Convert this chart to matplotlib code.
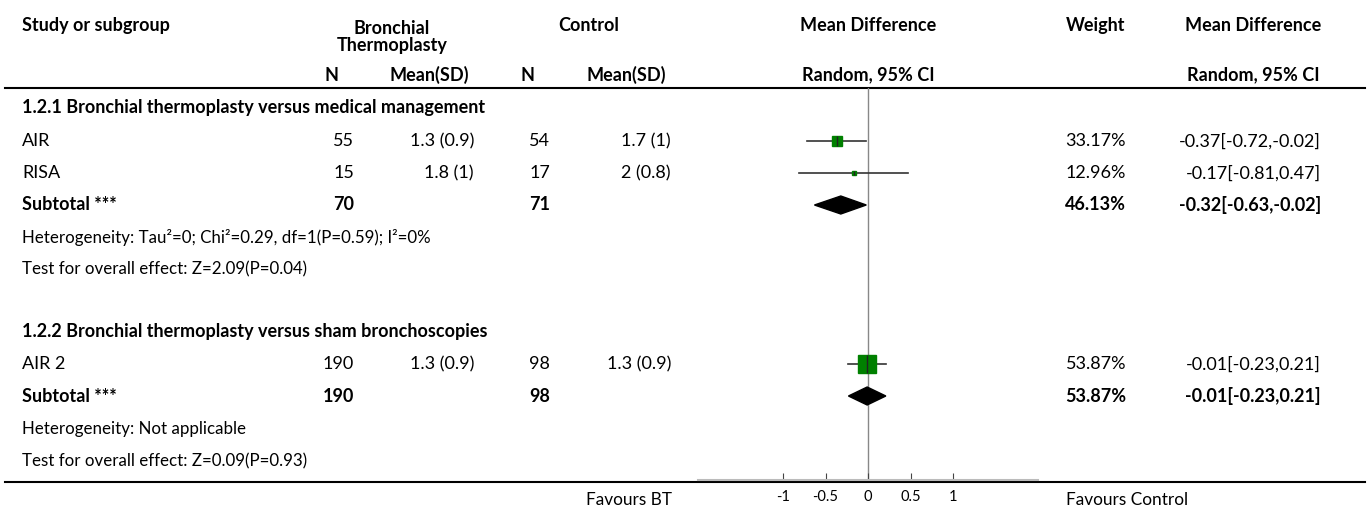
import matplotlib.pyplot as plt
from matplotlib.patches import Polygon

plt.rcParams['font.family'] = ['Lato', 'DejaVu Sans']

# study rows
studies = ["AIR", "RISA", "AIR 2"]
bt_n = [55, 15, 190]
bt_mean = ["1.3 (0.9)", "1.8 (1)", "1.3 (0.9)"]
ctl_n = [54, 17, 98]
ctl_mean = ["1.7 (1)", "2 (0.8)", "1.3 (0.9)"]
md = [-0.37, -0.17, -0.01]
md_lo = [-0.72, -0.81, -0.23]
md_hi = [-0.02, 0.47, 0.21]
weights = [33.17, 12.96, 53.87]

# subgroup totals
sub_titles = ["1.2.1 Bronchial thermoplasty versus medical management",
              "1.2.2 Bronchial thermoplasty versus sham bronchoscopies"]
sub_bt_n = [70, 190]
sub_ctl_n = [71, 98]
sub_md = [-0.32, -0.01]
sub_lo = [-0.63, -0.23]
sub_hi = [-0.02, 0.21]
sub_w = [46.13, 53.87]
heterogeneity = ["Heterogeneity: Tau\u00b2=0; Chi\u00b2=0.29, df=1(P=0.59); I\u00b2=0%",
                 "Heterogeneity: Not applicable"]
overall = ["Test for overall effect: Z=2.09(P=0.04)",
           "Test for overall effect: Z=0.09(P=0.93)"]
ticks = [-1, -0.5, 0, 0.5, 1]

# layout (pixel rows from top)
W, H = 1370, 509
study_y = [141, 173, 364]
title_y = [107, 331]
subtotal_y = [205, 396]
het_y = [237, 429]
test_y = [269, 461]
sq_size = [7.5, 3.2, 13]

fig = plt.figure(figsize=(W / 100, H / 100), dpi=100)
ax = fig.add_axes([0, 0, 1, 1])
ax.set_xlim(0, W)
ax.set_ylim(H, 0)
ax.axis('off')

fs = 13.0
hb = dict(fontsize=fs, fontweight='bold', va='center')
# header
ax.text(22, 25, "Study or subgroup", ha='left', **hb)
ax.text(392, 37, "Bronchial\nThermoplasty", ha='center', linespacing=1.05, **hb)
ax.text(589, 25, "Control", ha='center', **hb)
ax.text(868, 25, "Mean Difference", ha='center', **hb)
ax.text(1096, 25, "Weight", ha='center', **hb)
ax.text(1253, 25, "Mean Difference", ha='center', **hb)
ax.text(332, 75, "N", ha='center', **hb)
ax.text(429, 75, "Mean(SD)", ha='center', **hb)
ax.text(528, 75, "N", ha='center', **hb)
ax.text(626, 75, "Mean(SD)", ha='center', **hb)
ax.text(868, 75, "Random, 95% CI", ha='center', **hb)
ax.text(1253, 75, "Random, 95% CI", ha='center', **hb)
ax.plot([5, 1365], [88, 88], color='black', lw=1.5)
ax.plot([5, 1365], [482, 482], color='black', lw=1.5)

nb = dict(fontsize=fs, va='center')
for i, s in enumerate(studies):
    y = study_y[i]
    ax.text(22, y, s, ha='left', **nb)
    ax.text(354, y, str(bt_n[i]), ha='right', **nb)
    ax.text(474, y, bt_mean[i], ha='right', **nb)
    ax.text(550, y, str(ctl_n[i]), ha='right', **nb)
    ax.text(671, y, ctl_mean[i], ha='right', **nb)
    ax.text(1126, y, f"{weights[i]:.2f}%", ha='right', **nb)
    ax.text(1321, y, f"{md[i]:.2f}[{md_lo[i]:.2f},{md_hi[i]:.2f}]", ha='right', **nb)

for j in range(2):
    ax.text(22, title_y[j], sub_titles[j], ha='left', **hb)
    y = subtotal_y[j]
    ax.text(22, y, "Subtotal ***", ha='left', **hb)
    ax.text(354, y, str(sub_bt_n[j]), ha='right', **hb)
    ax.text(550, y, str(sub_ctl_n[j]), ha='right', **hb)
    ax.text(1126, y, f"{sub_w[j]:.2f}%", ha='right', **hb)
    ax.text(1321, y, f"{sub_md[j]:.2f}[{sub_lo[j]:.2f},{sub_hi[j]:.2f}]", ha='right', **hb)
    ax.text(22, het_y[j], heterogeneity[j], ha='left', fontsize=12.2, va='center')
    ax.text(22, test_y[j], overall[j], ha='left', fontsize=12.2, va='center')

ax.text(586, 500, "Favours BT", ha='left', fontsize=12.4, va='center')
ax.text(1066, 500, "Favours Control", ha='left', fontsize=12.4, va='center')

# forest panel
top, bottom = 88, 480
fa = fig.add_axes([698 / W, (H - bottom) / H, 340 / W, (bottom - top) / H])
fa.set_xlim(-2, 2)
fa.set_ylim(bottom, top)
fa.patch.set_alpha(0)
for side in ['top', 'left', 'right']:
    fa.spines[side].set_visible(False)
fa.spines['bottom'].set_color('#bbbbbb')
fa.spines['bottom'].set_linewidth(1.5)
fa.set_yticks([])
fa.set_xticks(ticks)
fa.set_xticklabels([f"{t:g}" for t in ticks])
fa.tick_params(axis='x', direction='in', length=5, color='#444444', labelsize=10.5, pad=7)
fa.axvline(0, color='#888888', lw=1, zorder=0)

for i in range(len(studies)):
    y = study_y[i]
    fa.plot([md_lo[i], md_hi[i]], [y, y], color='#333333', lw=1.2, zorder=2)
    fa.plot(md[i], y, marker='s', ms=sq_size[i], color='#008000', mec='#008000', zorder=3)
    fa.plot(md[i], y, marker='|', ms=sq_size[i], color='#222222', mew=1, zorder=4)

for j in range(2):
    y = subtotal_y[j]
    d = Polygon([(sub_lo[j], y), (sub_md[j], y - 9), (sub_hi[j], y), (sub_md[j], y + 9)],
                closed=True, color='black', zorder=3)
    fa.add_patch(d)

fig.savefig('out.png', dpi=100)
